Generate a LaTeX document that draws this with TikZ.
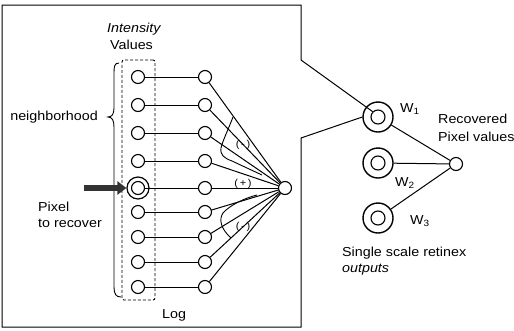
\documentclass[tikz,border=0pt]{standalone}
\usepackage{fontspec}
\setmainfont[FakeStretch=1.1]{Liberation Sans}
\usetikzlibrary{arrows.meta}
\begin{document}
\begin{tikzpicture}[x=1pt,y=-1pt,
  neuron/.style={circle,draw,line width=1.1pt,minimum size=13pt,inner sep=0pt},
  bigring/.style={circle,draw,line width=1.2pt,minimum size=22pt,inner sep=0pt},
  wring/.style={circle,draw,line width=1.4pt,minimum size=30pt,inner sep=0pt},
  winner/.style={circle,draw,line width=1.1pt,minimum size=14pt,inner sep=0pt},
  conn/.style={line width=1pt},
  lbl/.style={font=\fontsize{13}{15}\selectfont,inner sep=0pt},
  sgn/.style={font=\fontsize{10}{11}\selectfont,inner sep=0pt}]
\useasboundingbox (0,0) rectangle (514,330);
% left column
\foreach \i/\y in {1/77,2/105,3/133,4/161,6/212,7/237,8/262,9/287}{
  \node[neuron] (a\i) at (138,\y) {};
  \node[neuron] (b\i) at (205,\y) {};
}
\node[neuron] (a5) at (138,188) {};
\node[bigring] (a5o) at (138,188) {};
\node[neuron] (b5) at (205,188) {};
\node[neuron] (s) at (285,188) {};
\foreach \i in {1,...,9}{
  \draw[conn] (a\i) -- (b\i);
  \draw[conn] (b\i) -- (s);
}
% dashed box
\node[draw,densely dashed,line width=0.9pt,rounded corners=2pt,minimum width=33pt,minimum height=240pt,inner sep=0pt] (dbox) at (138.5,180) {};
% brace
\draw[line width=0.9pt] (119,63) .. controls (114,63) and (114,67) .. (114,74) -- (114,108)
  .. controls (114,114) and (112,117) .. (108,117)
  .. controls (112,117) and (114,120) .. (114,127) -- (114,287)
  .. controls (114,294) and (116,297) .. (121,297);
% arrow
\coordinate (arrS) at (84,188);
\draw[line width=6pt,draw=black!80,-{Triangle[length=9pt,width=13pt]}] (arrS) -- (a5o.west);
% brackets
\draw[line width=0.9pt] (233,117) .. controls (228,130) and (223,140) .. (221,148)
  .. controls (220,155) and (224,158) .. (232,161) -- (262,175);
\draw[line width=0.9pt] (257,195) .. controls (245,198) and (230,205) .. (223,213)
  .. controls (219,219) and (220,228) .. (231,238);
\node[sgn] (m1) at (243,145) {(\,-\,)};
\node[sgn] (p1) at (243,184) {(\,+\,)};
\node[sgn] (m2) at (243,227) {(\,-\,)};
% W circles
\node[winner] (w1i) at (378,117) {};
\node[wring] (w1) at (378,117) {};
\node[winner] (w2i) at (378,163) {};
\node[wring] (w2) at (378,163) {};
\node[winner] (w3i) at (378,218) {};
\node[wring] (w3) at (378,218) {};
\node[neuron] (out) at (456,164) {};
\draw[conn] (w1) -- (out);
\draw[conn] (w2) -- (out);
\draw[conn] (w3) -- (out);
% outer callout box
\coordinate (c1) at (2,5);
\coordinate (c2) at (301,5);
\coordinate (c3) at (301,60);
\coordinate (c4) at (301,138);
\coordinate (c5) at (301,327);
\coordinate (c6) at (2,327);
\draw[line width=1pt] (w1i.north west) -- (c3) -- (c2) -- (c1) -- (c6) -- (c5) -- (c4) -- (w1.west);
% texts
\node[lbl,anchor=west] (t1) at (107,29) {\itshape Intensity};
\node[lbl,anchor=west] (t2) at (110,45) {Values};
\node[lbl,anchor=east] (t3) at (98,117) {neighborhood};
\node[lbl,anchor=west] (t4) at (38,207) {Pixel};
\node[lbl,anchor=west] (t5) at (38,223) {to recover};
\node[lbl,anchor=west] (t6) at (162,315) {Log};
\node[lbl,anchor=west] (t7) at (400,109) {W\textsubscript{1}};
\node[lbl,anchor=west] (t8) at (395,183) {W\textsubscript{2}};
\node[lbl,anchor=west] (t9) at (410,221) {W\textsubscript{3}};
\node[lbl,anchor=west] (t10) at (438,119) {Recovered};
\node[lbl,anchor=west] (t11) at (438,137) {Pixel values};
\node[lbl,anchor=west] (t12) at (342,253) {Single scale retinex};
\node[lbl,anchor=west] (t13) at (342,270) {\itshape outputs};
\end{tikzpicture}
\end{document}
